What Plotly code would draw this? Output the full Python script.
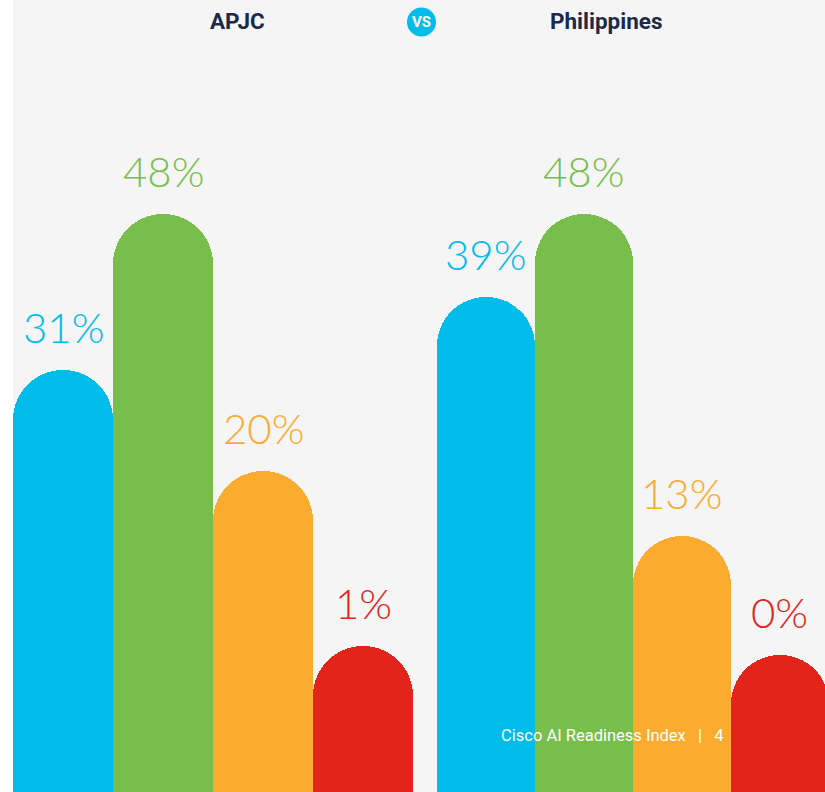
import plotly.graph_objects as go

# ---- data ----
regions = ["APJC", "Philippines"]
categories = ["Blue", "Green", "Orange", "Red"]
apjc_values = [31, 48, 20, 1]
ph_values = [39, 48, 13, 0]
apjc_labels = ["31%", "48%", "20%", "1%"]
ph_labels = ["39%", "48%", "13%", "0%"]
colors = ["#00BCEB", "#78BE4B", "#FBAB2D", "#E3241B"]

# ---- layout parameters (px-based) ----
W, H = 825, 792
ML = 13
PW = W - ML
unit = 100.0           # px per x-unit
group_start = [0.0, (436.7 - ML) / unit]
pitch = [1.0, 0.98]
ymin, ymax = -14.91, 71.27
base = -30

fig = go.Figure()
ann = []
for g, (vals, labs) in enumerate([(apjc_values, apjc_labels), (ph_values, ph_labels)]):
    xs = [group_start[g] + pitch[g] * (i + 0.5) for i in range(len(vals))]
    fig.add_trace(go.Bar(
        x=xs, y=[v - base for v in vals], base=base,
        width=pitch[g],
        marker=dict(color=colors, line=dict(width=0), cornerradius="50%"),
        hoverinfo="skip", showlegend=False,
    ))
    for x, v, t, c in zip(xs, vals, labs, colors):
        ann.append(dict(x=x, y=v, xref="x", yref="y", text=t, showarrow=False,
                        yanchor="bottom", yshift=16,
                        font=dict(family="Lato", size=42, color=c, weight=300)))

def px(xp):
    return (xp - ML) / PW

def py(yp):
    return 1 - yp / H

title_font = dict(family="Roboto", size=22.5, color="#1B2A49", weight="bold")
ann.append(dict(x=px(237), y=py(21), xref="paper", yref="paper", text="<b>APJC</b>",
                showarrow=False, font=title_font, xanchor="center", yanchor="middle"))
ann.append(dict(x=px(606), y=py(21), xref="paper", yref="paper", text="<b>Philippines</b>",
                showarrow=False, font=title_font, xanchor="center", yanchor="middle"))
ann.append(dict(x=px(421.5), y=py(22), xref="paper", yref="paper", text="<b>VS</b>",
                showarrow=False, font=dict(family="Roboto", size=15, color="white"),
                xanchor="center", yanchor="middle"))
ann.append(dict(x=px(499), y=py(735), xref="paper", yref="paper",
                text="Cisco AI Readiness Index&nbsp;&nbsp;&nbsp;|&nbsp;&nbsp;&nbsp;4",
                showarrow=False, font=dict(family="Roboto", size=16.5, color="white"),
                xanchor="left", yanchor="middle"))

shapes = [dict(type="circle", xref="paper", yref="paper",
               x0=px(407), x1=px(436), y0=py(36.5), y1=py(7.5),
               fillcolor="#00BCEB", line=dict(width=0), layer="above")]

fig.update_layout(
    width=W, height=H,
    margin=dict(l=ML, r=0, t=0, b=0),
    paper_bgcolor="white", plot_bgcolor="#F5F5F5",
    xaxis=dict(range=[0, PW / unit], visible=False, fixedrange=True),
    yaxis=dict(range=[ymin, ymax], visible=False, fixedrange=True),
    bargap=0, barmode="overlay",
    annotations=ann, shapes=shapes,
)
fig.write_html("out.html", config={"displayModeBar": False},
               post_script="document.body.style.margin='0';")
